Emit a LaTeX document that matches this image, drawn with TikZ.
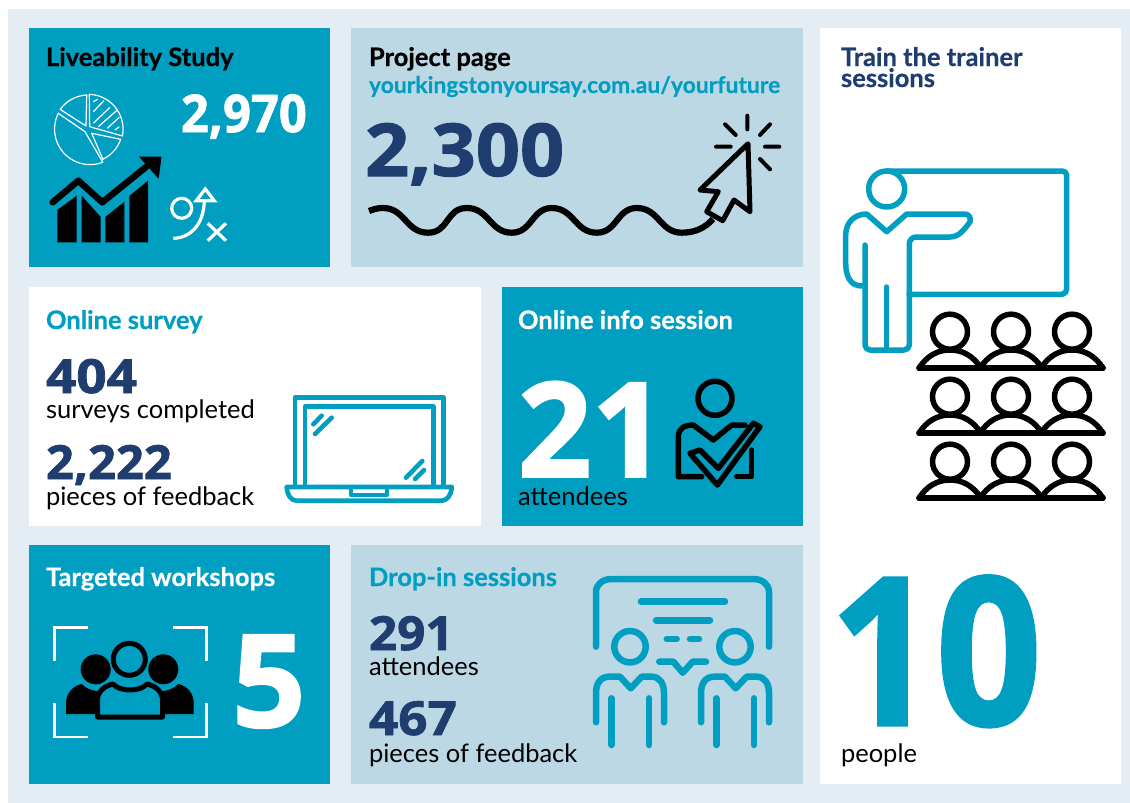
\documentclass[tikz,border=0pt]{standalone}
\usepackage{fontspec}
\setmainfont[BoldFeatures={FakeBold=0.5}]{Lato}
\IfFontExistsTF{Open Sans ExtraBold}{\newfontfamily\blk{Open Sans ExtraBold}}{%
\IfFontExistsTF{Fira Sans Heavy}{\newfontfamily\blk{Fira Sans Heavy}}{%
\IfFontExistsTF{Open Sans Bold}{\newfontfamily\blk[FakeBold=1.5]{Open Sans Bold}}{%
\newfontfamily\blk[FakeBold=5]{Noto Sans}}}}
\definecolor{teal}{HTML}{009FC2}
\definecolor{pale}{HTML}{BDD8E5}
\definecolor{bgp}{HTML}{E4ECF4}
\definecolor{navy}{HTML}{1F3D6E}
\tikzset{
 lbl/.style={anchor=base west,inner sep=0pt,outer sep=0pt},
 ttl/.style={lbl,font=\fontsize{25.5}{25.5}\selectfont\bfseries},
 num/.style={lbl,font=\fontsize{47}{47}\selectfont\blk,text=navy},
 body/.style={lbl,font=\fontsize{25.5}{25.5}\selectfont},
 ico/.style={line cap=round,line join=round},
}
\begin{document}
\begin{tikzpicture}[x=1pt,y=1pt,yscale=-1]
\useasboundingbox (0,0) rectangle (1130,803);
\fill[white] (0,0) rectangle (1130,803);
\fill[bgp] (8,9) rectangle (1130,803);
\fill[teal] (29,28) rectangle (330,267);
\fill[pale] (351,28) rectangle (803,267);
\fill[white] (820,28) rectangle (1121,784);
\fill[white] (29,287) rectangle (481,526);
\fill[teal] (502,287) rectangle (803,526);
\fill[teal] (29,545) rectangle (330,784);
\fill[pale] (351,545) rectangle (803,784);
% Texts
\node[ttl] (t1) at (46,66) {Liveability Study};
\node[lbl,text=white,font=\fontsize{52}{52}\selectfont\blk] (n1) at (181,132) {\scalebox{.94}[1]{2,970}};
\node[ttl] (t2) at (369,66) {Project page};
\node[lbl,text=teal,font=\fontsize{22.9}{24}\selectfont\bfseries] (u2) at (369,93) {yourkingstonyoursay.com.au/yourfuture};
\node[lbl,text=navy,font=\fontsize{73}{73}\selectfont\blk] (n2) at (365,176) {\scalebox{1.06}[1]{2,300}};
\node[ttl,text=teal] (t3) at (46,329) {Online survey};
\node[num] (n3) at (46,393) {\scalebox{1.13}[1]{404}};
\node[body] (b3) at (46,418) {surveys completed};
\node[num] (n4) at (46,479) {\scalebox{1.04}[1]{2,222}};
\node[body] (b4) at (46,505) {pieces of feedback};
\node[ttl,text=white] (t5) at (518,329) {Online info session};
\node[lbl,text=white,font=\fontsize{132}{132}\selectfont\blk] (n5) at (518,477) {\scalebox{.98}[1]{21}};
\node[body] (b5) at (518,505) {attendees};
\node[ttl,text=white] (t6) at (46,586) {Targeted workshops};
\node[lbl,text=white,font=\fontsize{129}{129}\selectfont\blk] (n6) at (232,727) {5};
\node[ttl,text=teal] (t7) at (369,586) {Drop-in sessions};
\node[num] (n7) at (369,650) {\scalebox{1.05}[1]{291}};
\node[body] (b7) at (369,675) {attendees};
\node[num] (n8) at (369,735) {\scalebox{1.09}[1]{467}};
\node[body] (b8) at (369,762) {pieces of feedback};
\node[lbl,text=navy,font=\fontsize{25.5}{21}\selectfont\bfseries] (t9) at (841,66) {Train the trainer};
\node[lbl,text=navy,font=\fontsize{25.5}{21}\selectfont\bfseries] (t9b) at (841,87) {sessions};
\node[lbl,text=teal,font=\fontsize{206}{206}\selectfont\blk] (n9) at (830,725) {\scalebox{.9}[1]{10}};
\node[body] (b9) at (841,762) {people};
% Pie
\begin{scope}[white,line width=1.2pt,line join=round]
\draw (89.7,126.7) -- (89.3,94.3) arc[start angle=-88,end angle=11,radius=35] -- cycle;
\draw (86,126) -- (86.7,95) arc[start angle=267,end angle=216,radius=35] -- cycle;
\draw (85,131.7) -- (58.3,113.3) arc[start angle=206.5,end angle=69,radius=35.5] -- cycle;
\draw (91.7,133.3) -- (120.7,139.3) arc[start angle=19,end angle=64.6,radius=34.5] -- cycle;
\draw (93.3,101.7) -- (97.7,99.3) (93.3,111.7) -- (104,100.7) (93.3,123.3) -- (110,107.3) (98.3,126.7) -- (117.3,110) (107.3,128.3) -- (119.3,117.3) (115,130) -- (119.3,126.7);
\end{scope}
% Chart
\fill (57.3,210) -- (76.7,195.7) -- (76.7,242.3) -- (57.3,242.3) -- cycle;
\fill (81.7,195.7) -- (100.7,217) -- (100.7,242.3) -- (81.7,242.3) -- cycle;
\fill (105.3,217) -- (124.3,201.7) -- (124.3,242.3) -- (105.3,242.3) -- cycle;
\fill (129.3,196) -- (148,180.7) -- (148,242.3) -- (129.3,242.3) -- cycle;
\draw[ico,line width=6.5pt] (52.7,202.3) -- (78.3,180.7) -- (102.3,202.3) -- (146,167);
\fill[line join=round,draw,line width=1pt] (140,157) -- (161,157) -- (158.3,177.7) -- cycle;
% Play icon
\begin{scope}[white,line width=3.2pt]
\draw (181.7,208.3) circle[radius=10];
\draw (173.3,238.3) .. controls (190,238) and (204,225) .. (204.3,200);
\draw[line join=miter] (196.3,200.7) -- (214.3,200.7) -- (205.3,189) -- cycle;
\draw (207.7,223.3) -- (226,240.7) (226,223.3) -- (207.7,240.7);
\end{scope}
% Wave + cursor
\draw[line width=6.2pt] (369,211) .. controls (374,209) and (378,208) .. (383,208) .. controls (405,208) and (406,232.7) .. (428,232.7) .. controls (449,232.7) and (446,208) .. (466.7,208) .. controls (489,208) and (490,232.7) .. (511.7,232.7) .. controls (532,232.7) and (532,208) .. (551.7,208) .. controls (574,208) and (575,232.7) .. (596.7,232.7) .. controls (617,232.7) and (617,208) .. (636.7,208) .. controls (659,208) and (660,232.7) .. (681.7,232.7) .. controls (695,232.7) and (705,228) .. (713,219);
\draw[ico,line width=5pt,fill=pale] (748,143.7) -- (750,211.7) -- (734,200) -- (722.7,220.7) -- (706.7,211.7) -- (718.3,191.7) -- (700,190) -- cycle;
\draw[ico,line width=4pt] (747.3,115.7) -- (747.3,129.3) (725,124.3) -- (735.7,135) (770,124.3) -- (760,135) (716,146.7) -- (730.7,146.7) (765,146.7) -- (779.3,146.7) (760,159) -- (770,169.3);
% Trainer
\begin{scope}[teal,line width=5.5pt,ico]
\draw (886.7,171) -- (1062,171) to[out=0,in=-90] (1066.7,175) -- (1066.7,289) to[out=90,in=0] (1062,294.3) -- (909,294.3);
\draw[fill=white,draw=none] (886.7,189) circle[radius=18];
\draw (886.7,189) circle[radius=18];
\draw (865,245) -- (865,345) to[out=90,in=180] (870,350) -- (904,350) to[out=0,in=90] (909.3,345) -- (909.3,244) to[out=-90,in=180] (916,237) -- (950,237) .. controls (960,237) and (965,228) .. (970,222) .. controls (971,217) and (969,214) .. (964,214) -- (906.7,214) -- (886.7,231.7) -- (866.7,214) .. controls (855,214) and (845.7,222) .. (845.7,235) -- (845.7,263) .. controls (845.7,276) and (850,286) .. (862,286);
\draw (886.7,287) -- (886.7,350);
\end{scope}
% Audience
\foreach \dy in {0,65,130}{
 \foreach \dx in {0,61,122}{
  \begin{scope}[shift={(\dx,\dy)},line width=5.5pt,ico]
  \draw (950,331.7) circle[radius=17.5];
  \draw (919,368) .. controls (927,356) and (937,350) .. (950,350) .. controls (963,350) and (973,356) .. (981,368);
  \end{scope}}
 \draw[ico,line width=5.5pt] (919,368+\dy) -- (1103,368+\dy);
}
% Laptop
\begin{scope}[teal,line width=4.6pt,ico]
\draw (295,486) -- (295,397.5) -- (443.3,397.5) -- (443.3,486);
\draw (305,486) -- (305,406.5) -- (433.3,406.5) -- (433.3,486);
\draw (286.7,487) -- (451.7,487) .. controls (451.5,495) and (447,500.7) .. (441.7,500.7) -- (296.7,500.7) .. controls (291,500.7) and (287,495) .. (286.7,487);
\draw (351,487) -- (351,495) -- (387,495) -- (387,487);
\draw (313.3,424.3) -- (321.7,415.7) (315,434) -- (331.7,417.7) (406,477.7) -- (422.3,461) (415,479) -- (424,470);
\end{scope}
% Info person
\begin{scope}[line width=5.5pt,ico]
\draw (715,398.3) circle[radius=17];
\draw (701.7,476.7) -- (678.3,476.7) -- (678.3,436.7) .. controls (678.3,428) and (685,425) .. (693.3,425) -- (713.3,440) -- (731.7,425) -- (745,425);
\draw (751.7,450) -- (751.7,476.7) -- (736.7,476.7);
\draw (690,453.3) -- (700,450) -- (718.3,468.3) -- (753.3,423.3) -- (760,426.7) -- (717.3,485) -- cycle;
\end{scope}
% Workshop icon
\begin{scope}[white,line width=2.6pt]
\draw (88.3,627.3) -- (54.3,627.3) -- (54.3,661);
\draw (172.7,627.3) -- (206.7,627.3) -- (206.7,661);
\draw (54.3,703.3) -- (54.3,737) -- (88.3,737);
\draw (172.7,737) -- (206.7,737) -- (206.7,703.3);
\end{scope}
\fill (95.7,669.3) circle[radius=15];
\fill (163.3,669.3) circle[radius=15];
\fill (66,714) -- (66,703) .. controls (66,694) and (72,686) .. (81.7,684) .. controls (90,692) and (100,692) .. (110,690) -- (150,690) .. controls (160,692) and (170,692) .. (178.3,684) .. controls (188,686) and (193.7,694) .. (193.7,703) -- (193.7,714) -- cycle;
\fill[teal] (130,695) ellipse[x radius=32,y radius=16];
\draw[line width=5pt,fill=teal,line join=round] (97.5,717) -- (97.5,700) .. controls (97.5,692) and (104,686) .. (113,684) .. controls (120,692) and (140,692) .. (147,684) .. controls (156,686) and (162.5,692) .. (162.5,700) -- (162.5,717) -- cycle;
\draw[line width=5pt,fill=teal] (129.3,659.3) circle[radius=16];
% Drop-in
\begin{scope}[teal,line width=6.5pt,ico]
\draw (596,646.7) -- (596,592) .. controls (596,584) and (603,579) .. (611.7,579) -- (753.3,579) .. controls (762,579) and (769,584) .. (769,592) -- (769,646.7);
\draw (641,601.7) -- (725,601.7) (656,620.3) -- (710,620.3) (666.7,639) -- (676.7,639) (690,639) -- (699,639);
\draw (659.3,661.7) -- (673.3,661.7) -- (682.7,672.7) -- (692.7,661.7) -- (706,661.7);
\foreach \dx in {0,105}{
 \begin{scope}[shift={(\dx,0)}]
 \draw (630,646.7) circle[radius=15.7];
 \draw (596,722.3) -- (596,693) .. controls (596,684) and (600,676.7) .. (609.3,676.7) -- (620,676.7) -- (630.7,688.3) -- (641.7,676.7) -- (651.7,676.7) .. controls (660,676.7) and (664,684) .. (664,693) -- (664,722.3);
 \draw (611.3,698.3) -- (611.3,745) (649,698.3) -- (649,745);
 \end{scope}}
\end{scope}
\end{tikzpicture}
\end{document}
